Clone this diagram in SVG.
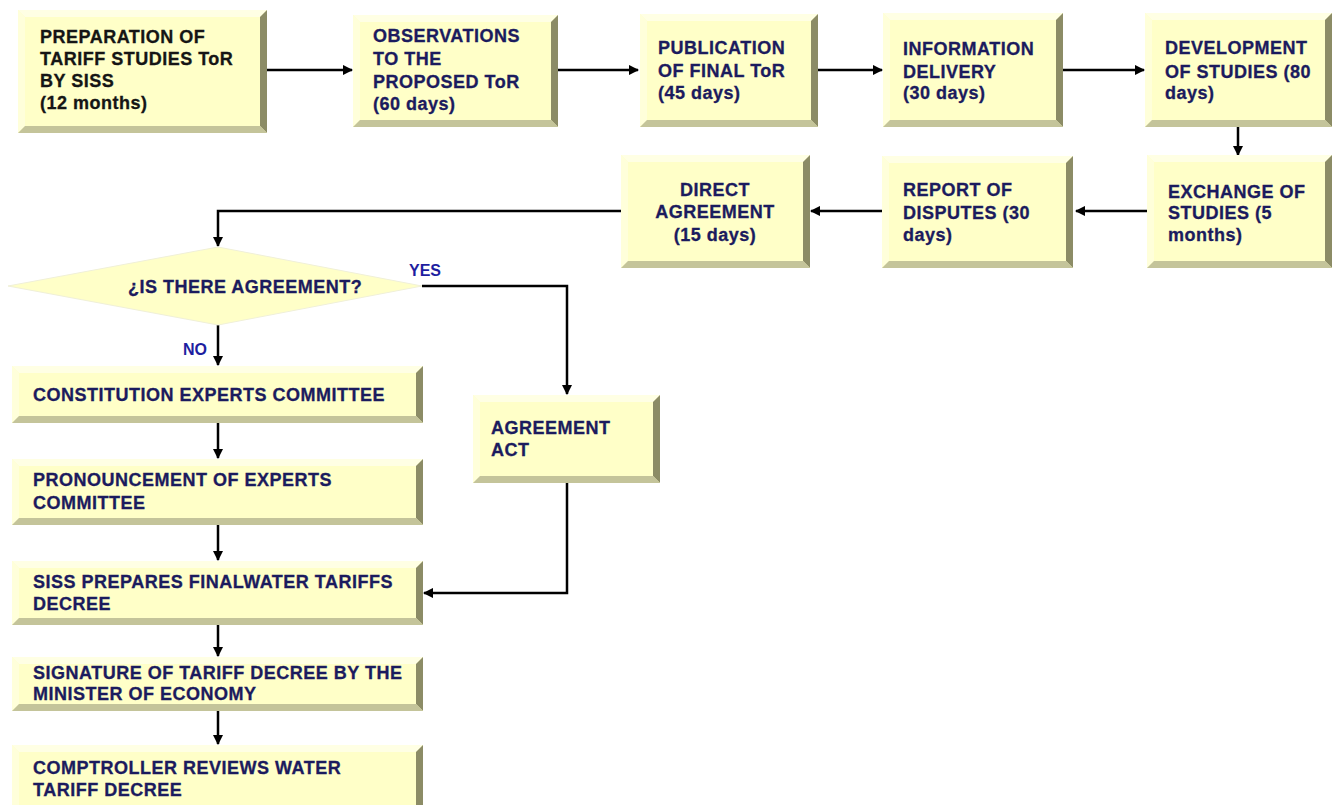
<svg xmlns="http://www.w3.org/2000/svg" width="1333" height="805" viewBox="0 0 1333 805">
<defs>
<style>
.base{fill:#FFFFC8}
.bt{fill:#FFFFE4}
.bl{fill:#FFFFDA}
.br{fill:#8C8C66}
.bb{fill:#C4C49A}
.t{font-family:"Liberation Sans",Arial,sans-serif;font-weight:bold;font-size:18px;letter-spacing:0.5px;fill:#1B1B5E;stroke:#1B1B5E;stroke-width:0.3}
.tk{fill:#151515;stroke:#151515}
.c{fill:none;stroke:#000;stroke-width:2.5}
.lbl{font-family:"Liberation Sans",Arial,sans-serif;font-weight:bold;font-size:16px;fill:#1E1EA0}
</style>
<marker id="ah" viewBox="0 0 10 10" refX="9" refY="5" markerWidth="4.2" markerHeight="4.2" orient="auto" markerUnits="strokeWidth">
<path d="M0,0 L10,5 L0,10 z" fill="#000"/>
</marker>
</defs>
<rect width="1333" height="805" fill="#fff"/>

<g id="connectors">
<line class="c" x1="267" y1="70" x2="352" y2="70" marker-end="url(#ah)"/>
<line class="c" x1="558" y1="70" x2="638" y2="70" marker-end="url(#ah)"/>
<line class="c" x1="818" y1="70" x2="882" y2="70" marker-end="url(#ah)"/>
<line class="c" x1="1063" y1="70" x2="1144" y2="70" marker-end="url(#ah)"/>
<line class="c" x1="1238" y1="127" x2="1238" y2="155" marker-end="url(#ah)"/>
<line class="c" x1="1147" y1="211" x2="1076" y2="211" marker-end="url(#ah)"/>
<line class="c" x1="882" y1="211" x2="811" y2="211" marker-end="url(#ah)"/>
<polyline class="c" points="621,211 218,211 218,246" marker-end="url(#ah)"/>
<polyline class="c" points="422,286 567,286 567,394" marker-end="url(#ah)"/>
<line class="c" x1="218" y1="325" x2="218" y2="365" marker-end="url(#ah)"/>
<line class="c" x1="218" y1="423" x2="218" y2="458" marker-end="url(#ah)"/>
<line class="c" x1="218" y1="525" x2="218" y2="560" marker-end="url(#ah)"/>
<polyline class="c" points="567,483 567,593 424,593" marker-end="url(#ah)"/>
<line class="c" x1="218" y1="625" x2="218" y2="656" marker-end="url(#ah)"/>
<line class="c" x1="218" y1="711" x2="218" y2="744" marker-end="url(#ah)"/>
</g>

<g id="n1">
<rect class="base" x="18" y="10" width="249" height="123"/>
<polygon class="bt" points="18,10 267,10 260,17 25,17"/>
<polygon class="bl" points="18,10 25,17 25,126 18,133"/>
<polygon class="br" points="267,10 267,133 260,126 260,17"/>
<polygon class="bb" points="18,133 267,133 260,126 25,126"/>
<text class="t tk"><tspan x="40" y="43">PREPARATION OF</tspan><tspan x="40" y="65">TARIFF STUDIES ToR</tspan><tspan x="40" y="87">BY SISS</tspan><tspan x="40" y="109">(12 months)</tspan></text>
</g>

<g id="n2">
<rect class="base" x="353" y="15" width="205" height="112"/>
<polygon class="bt" points="353,15 558,15 551,22 360,22"/>
<polygon class="bl" points="353,15 360,22 360,120 353,127"/>
<polygon class="br" points="558,15 558,127 551,120 551,22"/>
<polygon class="bb" points="353,127 558,127 551,120 360,120"/>
<text class="t"><tspan x="373" y="42">OBSERVATIONS</tspan><tspan x="373" y="65">TO THE</tspan><tspan x="373" y="88">PROPOSED ToR</tspan><tspan x="373" y="110">(60 days)</tspan></text>
</g>

<g id="n3">
<rect class="base" x="640" y="14" width="178" height="113"/>
<polygon class="bt" points="640,14 818,14 811,21 647,21"/>
<polygon class="bl" points="640,14 647,21 647,120 640,127"/>
<polygon class="br" points="818,14 818,127 811,120 811,21"/>
<polygon class="bb" points="640,127 818,127 811,120 647,120"/>
<text class="t"><tspan x="658" y="54">PUBLICATION</tspan><tspan x="658" y="77">OF FINAL ToR</tspan><tspan x="658" y="99">(45 days)</tspan></text>
</g>

<g id="n4">
<rect class="base" x="883" y="13" width="180" height="114"/>
<polygon class="bt" points="883,13 1063,13 1056,20 890,20"/>
<polygon class="bl" points="883,13 890,20 890,120 883,127"/>
<polygon class="br" points="1063,13 1063,127 1056,120 1056,20"/>
<polygon class="bb" points="883,127 1063,127 1056,120 890,120"/>
<text class="t"><tspan x="903" y="55">INFORMATION</tspan><tspan x="903" y="78">DELIVERY</tspan><tspan x="903" y="99">(30  days)</tspan></text>
</g>

<g id="n5">
<rect class="base" x="1145" y="13" width="187" height="114"/>
<polygon class="bt" points="1145,13 1332,13 1325,20 1152,20"/>
<polygon class="bl" points="1145,13 1152,20 1152,120 1145,127"/>
<polygon class="br" points="1332,13 1332,127 1325,120 1325,20"/>
<polygon class="bb" points="1145,127 1332,127 1325,120 1152,120"/>
<text class="t"><tspan x="1165" y="54">DEVELOPMENT</tspan><tspan x="1165" y="78">OF STUDIES (80</tspan><tspan x="1165" y="99">days)</tspan></text>
</g>

<g id="n6">
<rect class="base" x="1147" y="155" width="185" height="113"/>
<polygon class="bt" points="1147,155 1332,155 1325,162 1154,162"/>
<polygon class="bl" points="1147,155 1154,162 1154,261 1147,268"/>
<polygon class="br" points="1332,155 1332,268 1325,261 1325,162"/>
<polygon class="bb" points="1147,268 1332,268 1325,261 1154,261"/>
<text class="t"><tspan x="1168" y="198">EXCHANGE OF</tspan><tspan x="1168" y="219">STUDIES (5</tspan><tspan x="1168" y="241">months)</tspan></text>
</g>

<g id="n7">
<rect class="base" x="882" y="156" width="191" height="112"/>
<polygon class="bt" points="882,156 1073,156 1066,163 889,163"/>
<polygon class="bl" points="882,156 889,163 889,261 882,268"/>
<polygon class="br" points="1073,156 1073,268 1066,261 1066,163"/>
<polygon class="bb" points="882,268 1073,268 1066,261 889,261"/>
<text class="t"><tspan x="903" y="196">REPORT OF</tspan><tspan x="903" y="219">DISPUTES (30</tspan><tspan x="903" y="241">days)</tspan></text>
</g>

<g id="n8">
<rect class="base" x="621" y="155" width="189" height="113"/>
<polygon class="bt" points="621,155 810,155 803,162 628,162"/>
<polygon class="bl" points="621,155 628,162 628,261 621,268"/>
<polygon class="br" points="810,155 810,268 803,261 803,162"/>
<polygon class="bb" points="621,268 810,268 803,261 628,261"/>
<text class="t" text-anchor="middle"><tspan x="715" y="196">DIRECT</tspan><tspan x="715" y="218">AGREEMENT</tspan><tspan x="715" y="241">(15 days)</tspan></text>
</g>

<g id="decision">
<polygon points="8,286 218,247 422,286 218,325" fill="#FFFFC8" stroke="#F0F0D8" stroke-width="1"/>
<text class="t" x="128" y="293">¿IS THERE AGREEMENT?</text>
<text class="lbl" x="409" y="276">YES</text>
<text class="lbl" x="183" y="355">NO</text>
</g>

<g id="n9">
<rect class="base" x="12" y="366" width="411" height="57"/>
<polygon class="bt" points="12,366 423,366 416,373 19,373"/>
<polygon class="bl" points="12,366 19,373 19,416 12,423"/>
<polygon class="br" points="423,366 423,423 416,416 416,373"/>
<polygon class="bb" points="12,423 423,423 416,416 19,416"/>
<text class="t" x="33" y="401">CONSTITUTION EXPERTS COMMITTEE</text>
</g>

<g id="n10">
<rect class="base" x="473" y="395" width="187" height="88"/>
<polygon class="bt" points="473,395 660,395 653,402 480,402"/>
<polygon class="bl" points="473,395 480,402 480,476 473,483"/>
<polygon class="br" points="660,395 660,483 653,476 653,402"/>
<polygon class="bb" points="473,483 660,483 653,476 480,476"/>
<text class="t"><tspan x="491" y="434">AGREEMENT</tspan><tspan x="491" y="456">ACT</tspan></text>
</g>

<g id="n11">
<rect class="base" x="12" y="459" width="411" height="66"/>
<polygon class="bt" points="12,459 423,459 416,466 19,466"/>
<polygon class="bl" points="12,459 19,466 19,518 12,525"/>
<polygon class="br" points="423,459 423,525 416,518 416,466"/>
<polygon class="bb" points="12,525 423,525 416,518 19,518"/>
<text class="t"><tspan x="33" y="486">PRONOUNCEMENT OF EXPERTS</tspan><tspan x="33" y="509">COMMITTEE</tspan></text>
</g>

<g id="n12">
<rect class="base" x="12" y="561" width="411" height="64"/>
<polygon class="bt" points="12,561 423,561 416,568 19,568"/>
<polygon class="bl" points="12,561 19,568 19,618 12,625"/>
<polygon class="br" points="423,561 423,625 416,618 416,568"/>
<polygon class="bb" points="12,625 423,625 416,618 19,618"/>
<text class="t"><tspan x="33" y="588">SISS PREPARES FINALWATER TARIFFS</tspan><tspan x="33" y="610">DECREE</tspan></text>
</g>

<g id="n13">
<rect class="base" x="12" y="657" width="411" height="54"/>
<polygon class="bt" points="12,657 423,657 416,664 19,664"/>
<polygon class="bl" points="12,657 19,664 19,704 12,711"/>
<polygon class="br" points="423,657 423,711 416,704 416,664"/>
<polygon class="bb" points="12,711 423,711 416,704 19,704"/>
<text class="t"><tspan x="33" y="679">SIGNATURE OF TARIFF DECREE BY THE</tspan><tspan x="33" y="700">MINISTER OF ECONOMY</tspan></text>
</g>

<g id="n14">
<rect class="base" x="12" y="745" width="411" height="65"/>
<polygon class="bt" points="12,745 423,745 416,752 19,752"/>
<polygon class="bl" points="12,745 19,752 19,810 12,810"/>
<polygon class="br" points="423,745 423,810 416,810 416,752"/>
<text class="t"><tspan x="33" y="774">COMPTROLLER REVIEWS WATER</tspan><tspan x="33" y="796">TARIFF DECREE</tspan></text>
</g>
</svg>
